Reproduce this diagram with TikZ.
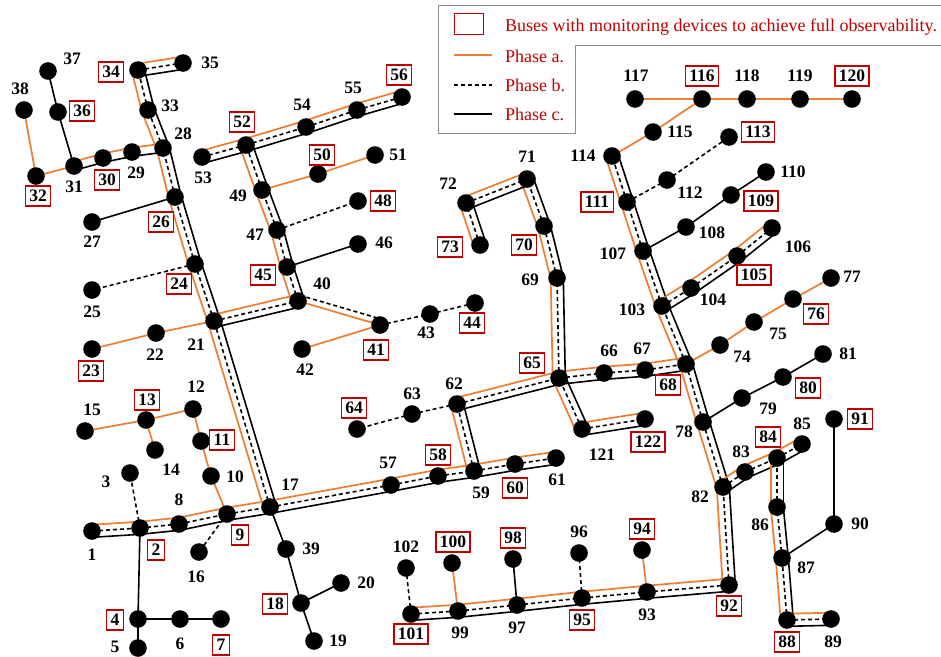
\documentclass[tikz,border=0pt]{standalone}
\usepackage{fontspec}
\setmainfont{Liberation Serif}
\usetikzlibrary{calc}
\definecolor{phA}{RGB}{237,125,49}
\definecolor{boxred}{RGB}{192,0,0}
\definecolor{lgray}{RGB}{140,140,140}
\pgfdeclarelayer{bg}
\pgfsetlayers{bg,main}
\tikzset{
  bus/.style={circle,fill=black,inner sep=0pt,minimum size=17.6pt},
  lbl/.style={font=\fontsize{17.5}{17.5}\selectfont\bfseries,inner sep=0pt,text=black},
  blbl/.style={lbl,draw=boxred,line width=1.3pt,fill=white,text=black,inner xsep=4pt,inner ysep=0pt,minimum height=20pt},
  pa/.style={draw=phA,line width=1.7pt},
  pb/.style={draw=black,line width=1.6pt,dash pattern=on 4pt off 3pt},
  pc/.style={draw=black,line width=1.6pt},
  ltxt/.style={font=\fontsize{18}{18}\selectfont,text=boxred,inner sep=0pt,anchor=base west},
}
\newcommand{\bandwd}{6.3pt}
\newcommand{\twowd}{4.3pt}
\newcommand{\threeph}[2]{%
  \draw[pa] ($(#1.center)!\bandwd!90:(#2.center)$) -- ($(#2.center)!\bandwd!-90:(#1.center)$);
  \draw[pb] (#1.center) -- (#2.center);
  \draw[pc] ($(#1.center)!\bandwd!-90:(#2.center)$) -- ($(#2.center)!\bandwd!90:(#1.center)$);}
\newcommand{\twoac}[2]{%
  \draw[pa] ($(#1.center)!\twowd!90:(#2.center)$) -- ($(#2.center)!\twowd!-90:(#1.center)$);
  \draw[pc] ($(#1.center)!\twowd!-90:(#2.center)$) -- ($(#2.center)!\twowd!90:(#1.center)$);}
\begin{document}
\begin{tikzpicture}[x=1pt,y=-1pt]
\useasboundingbox (0,0) rectangle (941,656);
% buses
\foreach \n/\x/\y in {1/92/531,2/140/528,3/130/473,4/138/619,5/138/648,6/180/619,7/221/619,8/179/524,9/227/514,10/211/476,
11/201/441,12/193/409,13/146/420,14/155/450,15/85/431,16/199/552,17/270/507,18/301/603,19/314/641,20/341/583,
21/214/321,22/156/333,23/92/349,24/195/264,25/92/290,26/175/197,27/92/222,28/163/148,29/132/152,30/103/158,
31/74/166,32/36/176,33/148/110,34/138/70,35/183/63,36/58/112,37/48/71,38/24/110,39/286/549,40/298/301,
41/380/325,42/302/349,43/430/314,44/475/303,45/287/267,46/358/244,47/277/230,48/358/201,49/262/190,50/318/174,
51/375/155,52/246/145,53/202/157,54/306/127,55/357/110,56/402/97,57/391/485,58/438/476,59/474/471,60/515/464,
61/556/458,62/457/404,63/412/414,64/357/429,65/559/378,66/604/373,67/645/370,68/686/364,69/557/278,70/544/226,
71/527/179,72/466/203,73/480/245,74/720/345,75/754/322,76/793/299,77/831/278,78/703/422,79/742/398,80/783/377,
81/823/354,82/723/487,83/745/472,84/777/458,85/802/444,86/777/507,87/782/558,88/787/620,89/831/619,90/834/524,
91/834/419,92/729/585,93/647/592,94/642/550,95/582/598,96/579/553,97/517/605,98/513/559,99/458/611,100/452/563,
101/411/614,102/406/568,103/662/306,104/691/288,105/737/256,106/772/228,107/643/251,108/686/227,109/731/195,110/766/172,
111/627/202,112/667/180,113/729/137,114/612/156,115/653/132,116/702/99,117/635/99,118/747/99,119/800/99,120/852/99,
121/582/429,122/645/419}
  \node[bus] (n\n) at (\x,\y) {};
% lines
\begin{pgfonlayer}{bg}
\foreach \a/\b in {1/2,2/8,8/9,9/17,17/57,57/58,58/59,59/60,60/61,59/62,62/65,65/66,66/67,67/68,65/69,69/70,70/71,
72/71,73/72,121/65,121/122,78/68,68/103,103/107,107/111,111/114,103/104,104/105,105/106,82/78,92/82,93/92,95/93,
97/95,99/97,101/99,82/83,83/84,84/85,86/84,87/86,88/87,88/89,17/21,21/24,24/26,26/28,28/33,33/34,34/35,21/40,
40/45,45/47,47/49,49/52,52/54,54/55,55/56,53/52}
  \threeph{n\a}{n\b};
\foreach \a/\b in {31/30,30/29,29/28}
  \twoac{n\a}{n\b};
\draw[pa] (n40.center) -- (n41.center);
\draw[pb] ($(n40.center)!6pt!90:(n41.center)$) -- ($(n41.center)!6pt!-90:(n40.center)$);
\foreach \a/\b in {31/32,32/38,21/22,22/23,49/50,50/51,41/42,9/10,10/11,11/12,12/13,13/15,13/14,99/100,93/94,
68/74,74/75,75/76,76/77,114/115,115/116,116/117,116/118,118/119,119/120}
  \draw[pa] (n\a.center) -- (n\b.center);
\foreach \a/\b in {24/25,47/48,41/43,43/44,62/63,63/64,2/3,9/16,101/102,95/96,111/112,112/113}
  \draw[pb] (n\a.center) -- (n\b.center);
\foreach \a/\b in {31/36,36/37,26/27,45/46,2/4,4/5,4/6,6/7,17/39,39/18,18/19,18/20,97/98,87/90,90/91,
78/79,79/80,80/81,107/108,108/109,109/110}
  \draw[pc] (n\a.center) -- (n\b.center);
\end{pgfonlayer}
% plain labels
\foreach \n/\x/\y in {1/92/555,3/106/482,5/115/647,6/180/644,8/179/500,10/235/477,12/196/387,14/171/470,15/92/410,
16/196/577,17/290/485,19/338/641,20/366/583,21/196/345,22/155/355,25/92/312,27/92/242,28/183/134,29/136/173,
31/74/187,33/170/106,35/210/63,37/72/59,38/20/89,39/311/549,40/322/284,42/305/370,43/426/333,46/384/243,
47/255/235,49/238/196,51/398/155,53/203/178,54/302/105,55/353/88,57/388/463,59/481/493,61/557/480,62/454/384,
63/412/394,66/609/351,67/642/349,69/530/280,71/527/157,72/448/184,74/742/357,75/778/334,77/852/277,78/684/432,
79/768/409,81/848/354,82/700/497,83/741/452,85/802/424,86/760/525,87/806/568,89/833/642,90/860/524,93/647/615,
96/579/532,97/517/628,99/460/633,102/406/547,103/632/310,104/713/300,106/798/247,107/613/254,108/712/233,
110/793/172,112/690/193,114/583/156,115/680/132,117/636/76,118/747/76,119/800/76,121/602/455}
  \node[lbl] (t\n) at (\x,\y) {\n};
% boxed labels
\foreach \n/\x/\y in {2/156/550,4/115/620,7/221/645,9/240/535,11/222/440,13/147/400,18/275/604,23/91/371,24/179/284,
26/161/222,30/107/180,32/38/196,34/111/72,36/82/111,41/376/350,44/472/323,45/263/275,48/383/201,50/322/155,
52/242/122,56/399/75,58/438/455,60/515/488,64/354/408,65/532/363,68/668/385,70/524/245,73/450/247,76/816/314,
80/808/388,84/768/437,88/787/642,91/860/419,92/729/606,94/642/529,95/582/620,98/513/538,100/453/542,101/411/634,
105/754/275,109/761/201,111/597/202,113/758/132,116/702/76,120/852/76,122/648/442}
  \node[blbl] (t\n) at (\x,\y) {\n};
% legend
\draw[lgray,line width=1pt] (941,45) -- (575,45) -- (575,133) -- (438,133) -- (438,5) -- (941,5);
\node[draw=boxred,line width=1pt,fill=white,minimum width=29pt,minimum height=21pt,inner sep=0pt] (lgbox) at (469,24) {};
\node[ltxt] (lgt1) at (505,31) {Buses with monitoring devices to achieve full observability.};
\coordinate (la1) at (454,55); \coordinate (la2) at (492,55);
\coordinate (lb1) at (454,85); \coordinate (lb2) at (492,85);
\coordinate (lc1) at (454,114); \coordinate (lc2) at (492,114);
\draw[pa] (la1) -- (la2);
\draw[pb] (lb1) -- (lb2);
\draw[pc] (lc1) -- (lc2);
\node[ltxt] (lgt2) at (505,62) {Phase a.};
\node[ltxt] (lgt3) at (505,91) {Phase b.};
\node[ltxt] (lgt4) at (505,120) {Phase c.};
\end{tikzpicture}
\end{document}
